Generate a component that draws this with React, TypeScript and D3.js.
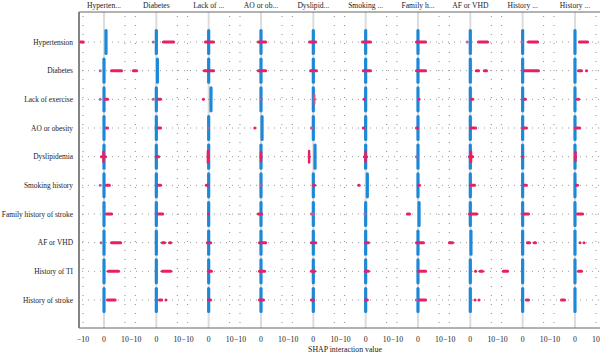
import React from "react";
import * as d3 from "d3";

const features = [
  "Hypertension",
  "Diabetes",
  "Lack of exercise",
  "AO or obesity",
  "Dyslipidemia",
  "Smoking history",
  "Family history of stroke",
  "AF or VHD",
  "History of TI",
  "History of stroke",
];
const columnTitles = [
  "Hyperten...",
  "Diabetes",
  "Lack of ...",
  "AO or ob...",
  "Dyslipid...",
  "Smoking ...",
  "Family h...",
  "AF or VHD",
  "History ...",
  "History ...",
];
const xTicks = [-10, 0, 10];
const gridValues = [-10, 10];
const xLabel = "SHAP interaction value";

// position of the low-value (blue) point cloud in main-effect (diagonal) cells
const diagBlueShift = [0.95, 0.5, 1.1, 0.5, 0.8, 0.8, 0.5, 0.3, 0, 0];

// point clusters: [row, col, xFrom, xTo, feature value (0 low .. 1 high), vertical spread]
const clusters: [number, number, number, number, number, number][] = [
  [0, 0, -11.9, -9.2, 1, 0],
  [0, 1, -1.6, -1.4, 0.5, 0],
  [0, 1, 2.7, 8.9, 1, 0],
  [0, 2, -2.2, 3.0, 1, 0],
  [0, 3, -1.9, 2.9, 1, 0],
  [0, 4, -2.5, 1.8, 1, 0],
  [0, 5, -2.2, 3.0, 1, 0],
  [0, 6, -1.4, 4.3, 1, 0],
  [0, 7, -1.6, -1.4, 0.5, 0],
  [0, 7, 3.2, 8.9, 1, 0],
  [0, 8, -0.3, -0.1, 0.5, 0],
  [0, 8, 2.1, 7.8, 1, 0],
  [0, 9, 1.4, 6.7, 1, 0],

  [1, 0, -1.9, -1.7, 0.5, 0],
  [1, 0, 2.9, 9.0, 1, 0],
  [1, 0, 13.3, 16.2, 1, 0],
  [1, 2, -2.7, 3.0, 1, 0],
  [1, 3, -1.9, 2.9, 1, 0],
  [1, 4, -2.0, 2.2, 1, 0],
  [1, 5, -1.8, 3.0, 1, 0],
  [1, 6, -1.4, 4.3, 1, 0],
  [1, 7, 2.2, 4.6, 1, 0],
  [1, 7, 6.0, 8.4, 1, 0],
  [1, 8, 0.1, 8.2, 1, 0],
  [1, 9, 1.0, 3.8, 1, 0],
  [1, 9, 4.8, 6.2, 1, 0],

  [2, 0, -1.9, -1.7, 0.5, 0],
  [2, 0, 0, 2.4, 1, 0],
  [2, 1, -1.6, -1.4, 0.5, 0],
  [2, 1, 0.3, 2.7, 1, 0],
  [2, 2, -3.2, -1.8, 1, 0],
  [2, 3, -0.5, 0.8, 0.6, 0],
  [2, 4, 0, 0.8, 0.7, 0.3],
  [2, 5, -1.3, -0.3, 1, 0],
  [2, 6, 0, 1, 1, 0],
  [2, 7, -0.1, 1.8, 1, 0],
  [2, 8, 0.1, 2, 1, 0],
  [2, 9, 0.5, 2.4, 1, 0],

  [3, 0, 0.5, 2.4, 1, 0],
  [3, 1, 0.3, 2.7, 1, 0],
  [3, 2, -0.8, 0.5, 0.6, 0],
  [3, 3, -3.3, -2.6, 1, 0],
  [3, 4, -1.6, 0, 0.6, 0],
  [3, 5, -1.8, -0.3, 1, 0],
  [3, 6, -1.4, 0.5, 1, 0],
  [3, 7, -0.6, 3.2, 1, 0],
  [3, 8, -0.3, 2.5, 1, 0],
  [3, 9, -0.5, 2.9, 1, 0],

  [4, 0, -1.9, 1.4, 1, 0.35],
  [4, 1, -0.6, 1.8, 1, 0],
  [4, 2, -0.8, 0.1, 1, 0.4],
  [4, 3, -0.5, 0.5, 1, 0.3],
  [4, 4, -2.5, -1.5, 1, 0.4],
  [4, 5, -1.3, 1.1, 1, 0.35],
  [4, 6, -1.4, 0, 0.6, 0],
  [4, 7, -1.1, 1.8, 1, 0.35],
  [4, 8, -0.3, 0.6, 1, 0],
  [4, 9, -0.5, 1, 1, 0.3],

  [5, 0, -1.9, -1.7, 0.5, 0],
  [5, 0, 0.5, 3.2, 1, 0],
  [5, 1, 0.3, 2.7, 1, 0],
  [5, 2, -1.8, 0.1, 1, 0],
  [5, 3, -0.3, 0.5, 0.6, 0],
  [5, 4, -0.6, 1.3, 1, 0],
  [5, 5, -4, -2.4, 1, 0],
  [5, 6, -0.5, 1.4, 1, 0],
  [5, 7, -0.6, 2.7, 1, 0],
  [5, 8, 0.1, 2.5, 1, 0],
  [5, 9, 0, 1.9, 1, 0],

  [6, 0, 0.5, 4.3, 1, 0],
  [6, 1, 0.3, 3.7, 1, 0],
  [6, 2, -0.8, 0.6, 1, 0],
  [6, 3, -1.9, 1, 1, 0],
  [6, 4, -1.6, 0.8, 0.6, 0],
  [6, 5, -0.8, 0.1, 0.6, 0],
  [6, 6, -5.7, -3.3, 1, 0],
  [6, 7, -1.1, 3.7, 1, 0],
  [6, 8, -0.3, 3.5, 1, 0],
  [6, 9, 0.5, 4.3, 1, 0],

  [7, 0, -1.5, -1.3, 0.5, 0],
  [7, 0, 2.9, 8.6, 1, 0],
  [7, 1, 2.2, 4.6, 1, 0],
  [7, 1, 5.6, 7.5, 1, 0],
  [7, 2, -1.3, 1.6, 1, 0],
  [7, 3, -1.4, 2.9, 1, 0],
  [7, 4, -1.6, 1.8, 1, 0],
  [7, 5, -0.8, 2, 1, 0],
  [7, 6, -1.4, 3.3, 1, 0],
  [7, 7, -10.6, -7.8, 1, 0],
  [7, 8, 1.6, 4, 1, 0],
  [7, 8, 4.9, 6.8, 1, 0],
  [7, 9, 1.9, 2.9, 1, 0],
  [7, 9, 3.8, 4.8, 1, 0],

  [8, 0, 1.4, 7.6, 1, 0],
  [8, 1, 2.2, 7.5, 1, 0],
  [8, 2, -0.8, 2, 1, 0],
  [8, 3, -1.4, 2.4, 1, 0],
  [8, 4, -1.6, 1.3, 1, 0],
  [8, 5, -0.8, 2, 1, 0],
  [8, 6, -0.5, 4.3, 1, 0],
  [8, 7, 1.8, 3.2, 1, 0],
  [8, 7, 4, 6.5, 1, 0],
  [8, 8, -9.9, -6.5, 1, 0],
  [8, 9, 1, 3.8, 1, 0],

  [9, 0, 1, 6, 1, 0],
  [9, 1, 0.8, 3.2, 1, 0],
  [9, 1, 4.1, 5.1, 1, 0],
  [9, 2, -0.8, 1.6, 1, 0],
  [9, 3, -1.4, 1.9, 1, 0],
  [9, 4, -1.6, 0.8, 1, 0],
  [9, 5, -0.8, 1.5, 1, 0],
  [9, 6, -0.9, -0.7, 0.5, 0],
  [9, 6, 0, 4.3, 1, 0],
  [9, 7, 1.8, 2.7, 1, 0],
  [9, 7, 3.7, 4.6, 1, 0],
  [9, 8, 1.1, 3.5, 1, 0],
  [9, 9, -7.1, -4.3, 1, 0],
];

const W = 600;
const H = 355;
const left = 80;
const colW = 52.33;
const top = 12;
const bottom = 328;
const FONT = "'Liberation Serif', 'Times New Roman', serif";

export default function App() {
  const colScale = d3
    .scaleBand<number>()
    .domain(d3.range(features.length))
    .range([left, left + colW * features.length])
    .padding(0);
  const xInner = d3
    .scaleLinear()
    .domain([-11.43, 13.49])
    .range([0, colScale.bandwidth()]);
  const yScale = d3.scalePoint<string>().domain(features).range([42, 300]);
  const step = yScale.step();
  const color = d3
    .scaleLinear<string>()
    .domain([0, 1])
    .range(["#1e88d8", "#ea1f62"])
    .interpolate(d3.interpolateLab);

  const X = (col: number, v: number) => (colScale(col) as number) + xInner(v);
  const blueHalf = step * 0.4;
  const inset = 1.4;

  return (
    <div style={{ position: "fixed", left: 0, top: 0 }}>
      <svg width={W} height={H} style={{ display: "block", background: "#fff" }}>
        {/* zero lines */}
        {features.map((_, c) => (
          <line
            key={"z" + c}
            x1={X(c, 0)}
            x2={X(c, 0)}
            y1={top}
            y2={bottom}
            stroke="#dcdcdc"
            strokeWidth={2}
          />
        ))}
        {/* vertical dotted grid */}
        {features.map((_, c) =>
          gridValues.map((g) => (
            <line
              key={"g" + c + "_" + g}
              x1={X(c, g)}
              x2={X(c, g)}
              y1={top + 4}
              y2={bottom}
              stroke="#8a8a8a"
              strokeWidth={1}
              strokeDasharray="1,8"
            />
          ))
        )}
        {/* horizontal dotted grid */}
        {features.map((f) => (
          <line
            key={"h" + f}
            x1={left + 2}
            x2={W}
            y1={yScale(f)}
            y2={yScale(f)}
            stroke="#9a9a9a"
            strokeWidth={1}
            strokeDasharray="1,5"
          />
        ))}
        {/* blue (low value) clouds */}
        {features.map((f, r) =>
          features.map((_, c) => {
            const xv = X(c, r === c ? diagBlueShift[r] : 0);
            const y = yScale(f) as number;
            return (
              <line
                key={"b" + r + "_" + c}
                x1={xv}
                x2={xv}
                y1={y - blueHalf}
                y2={y + blueHalf}
                stroke={color(0)}
                strokeWidth={3.2}
                strokeLinecap="round"
              />
            );
          })
        )}
        {/* high / mid value clusters */}
        {clusters.map(([r, c, a, b, v, s], i) => {
          const y = yScale(features[r]) as number;
          let x1 = X(c, a) + inset;
          let x2 = X(c, b) - inset;
          if (x2 < x1) {
            const m = (x1 + x2) / 2;
            x1 = m;
            x2 = m;
          }
          return (
            <g key={"c" + i}>
              <line
                x1={x1}
                x2={x2}
                y1={y}
                y2={y}
                stroke={color(v)}
                strokeWidth={3}
                strokeLinecap="round"
              />
              {s > 0 && (
                <line
                  x1={(x1 + x2) / 2}
                  x2={(x1 + x2) / 2}
                  y1={y - (s * step) / 2}
                  y2={y + (s * step) / 2}
                  stroke={color(v)}
                  strokeWidth={2.5}
                  strokeLinecap="round"
                />
              )}
            </g>
          );
        })}
        {/* frame */}
        <line x1={left - 1} x2={W} y1={top} y2={top} stroke="#666" strokeWidth={1.2} />
        <line x1={left - 1} x2={W} y1={bottom} y2={bottom} stroke="#666" strokeWidth={1.2} />
        <line x1={left - 1} x2={left - 1} y1={top} y2={bottom} stroke="#777" strokeWidth={1.8} />
        {/* row labels */}
        {features.map((f) => (
          <text
            key={"rl" + f}
            x={73}
            y={yScale(f)}
            dy="0.35em"
            textAnchor="end"
            fontFamily={FONT}
            fontSize={7.4}
            fill="#222"
          >
            {f}
          </text>
        ))}
        {/* column titles */}
        {columnTitles.map((t, c) => (
          <text
            key={"ct" + c}
            x={X(c, 0)}
            y={8}
            textAnchor="middle"
            fontFamily={FONT}
            fontSize={7.6}
            fill="#222"
          >
            {t}
          </text>
        ))}
        {/* x tick labels */}
        {features.map((_, c) =>
          xTicks.map((t) => (
            <text
              key={"xt" + c + "_" + t}
              x={X(c, t)}
              y={342}
              textAnchor="middle"
              fontFamily={FONT}
              fontSize={7.8}
              fill="#222"
            >
              {t < 0 ? "\u2212" + Math.abs(t) : String(t)}
            </text>
          ))
        )}
        <text x={345} y={352} textAnchor="middle" fontFamily={FONT} fontSize={7.8} fill="#222">
          {xLabel}
        </text>
      </svg>
    </div>
  );
}
